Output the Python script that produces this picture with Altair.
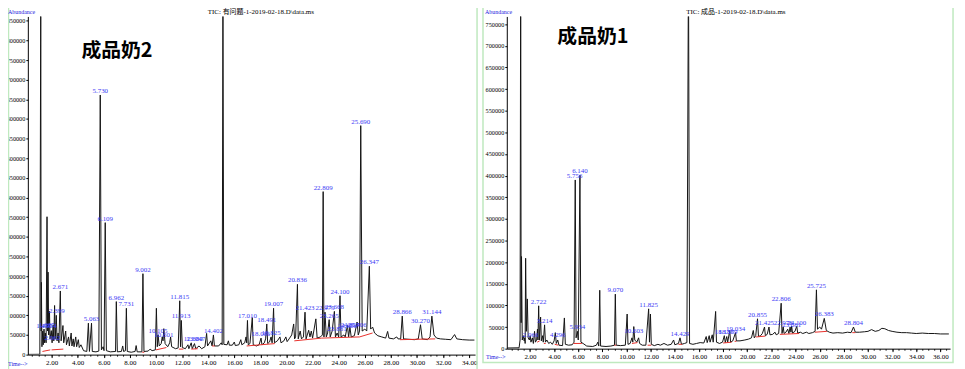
import altair as alt
import pandas as pd

# ---------------- data ----------------
# Left panel (成品奶2): trace vertices (retention time [min], abundance)
LEFT_TRACE = [
    (0.20, 500), (1.10, 800), (1.17, 900000), (1.20, 60000), (1.22, 184000), (1.26, 20000),
    (1.32, 60000), (1.36, 25000), (1.42, 65000), (1.46, 30000), (1.52, 55000), (1.58, 30000),
    (1.65, 351000), (1.69, 60000), (1.73, 210000), (1.78, 50000), (1.84, 110000), (1.88, 40000),
    (1.98, 61000), (2.04, 30000), (2.12, 75000), (2.17, 35000), (2.23, 125000), (2.28, 40000),
    (2.36, 100000), (2.42, 35000), (2.50, 55000), (2.56, 30000), (2.67, 162000), (2.73, 35000),
    (2.87, 74000), (2.93, 30000), (3.08, 60000), (3.14, 25000), (3.30, 45000), (3.36, 22000),
    (3.50, 55000), (3.56, 22000), (3.66, 40000), (3.72, 20000), (3.85, 45000), (3.92, 20000),
    (4.05, 38000), (4.12, 18000), (4.25, 25000), (4.45, 10000), (4.70, 8000), (4.82, 80000),
    (4.90, 8000), (5.06, 80000), (5.12, 8000), (5.40, 7000), (5.62, 9000), (5.73, 661000),
    (5.82, 12000), (5.95, 20000), (6.02, 10000), (6.11, 336000), (6.20, 10000), (6.50, 7000),
    (6.90, 8000), (6.96, 135000), (7.04, 7000), (7.35, 8000), (7.45, 22000), (7.52, 8000),
    (7.66, 10000), (7.73, 118000), (7.80, 8000), (8.10, 6000), (8.40, 8000), (8.48, 23000),
    (8.56, 7000), (8.92, 7000), (9.00, 206000), (9.08, 8000), (9.40, 9000), (9.55, 14000),
    (9.70, 10000), (9.95, 12000), (10.03, 118000), (10.10, 20000), (10.16, 50000), (10.25, 22000),
    (10.40, 28000), (10.48, 45000), (10.54, 35000), (10.60, 66000), (10.70, 28000), (10.90, 20000),
    (11.05, 30000), (11.12, 45000), (11.20, 20000), (11.50, 15000), (11.70, 17000), (11.82, 137000),
    (11.88, 20000), (11.94, 87000), (12.02, 18000), (12.25, 15000), (12.45, 25000), (12.52, 15000),
    (12.70, 30000), (12.78, 15000), (12.95, 28000), (13.05, 15000), (13.30, 22000), (13.50, 15000),
    (13.75, 20000), (13.88, 54000), (13.95, 22000), (14.20, 35000), (14.30, 22000), (14.40, 50000),
    (14.48, 22000), (14.80, 22000), (15.00, 30000), (15.07, 25000), (15.13, 900000), (15.20, 26000),
    (15.45, 25000), (15.55, 35000), (15.62, 24000), (15.85, 24000), (16.00, 32000), (16.08, 23000),
    (16.35, 25000), (16.50, 38000), (16.58, 25000), (16.80, 30000), (16.90, 45000), (16.95, 30000),
    (17.01, 87000), (17.07, 25000), (17.20, 28000), (17.38, 94000), (17.45, 25000), (17.70, 22000),
    (17.90, 25000), (18.05, 42000), (18.12, 25000), (18.30, 30000), (18.40, 40000), (18.49, 78000),
    (18.56, 28000), (18.70, 32000), (18.82, 45000), (18.90, 30000), (19.01, 118000), (19.08, 30000),
    (19.30, 35000), (19.50, 45000), (19.58, 30000), (19.80, 35000), (19.95, 45000), (20.05, 33000),
    (20.20, 40000), (20.40, 50000), (20.55, 78000), (20.62, 40000), (20.70, 45000), (20.84, 179000),
    (20.90, 40000), (21.05, 60000), (21.15, 40000), (21.30, 45000), (21.42, 108000), (21.50, 40000),
    (21.70, 62000), (21.80, 45000), (21.90, 60000), (22.00, 42000), (22.25, 91000), (22.35, 42000),
    (22.60, 45000), (22.75, 50000), (22.81, 415000), (22.87, 45000), (22.95, 108000), (23.05, 45000),
    (23.15, 55000), (23.27, 89000), (23.35, 45000), (23.50, 60000), (23.67, 110000), (23.75, 45000),
    (23.88, 55000), (24.00, 45000), (24.10, 150000), (24.18, 45000), (24.40, 50000), (24.50, 45000),
    (24.67, 74000), (24.76, 45000), (24.86, 70000), (24.96, 45000), (25.20, 48000), (25.41, 83000),
    (25.50, 50000), (25.60, 60000), (25.69, 583000), (25.80, 60000), (26.00, 65000), (26.15, 60000),
    (26.35, 225000), (26.45, 65000), (26.60, 70000), (26.75, 55000), (27.00, 48000), (27.30, 45000),
    (27.60, 42000), (27.75, 59000), (27.85, 42000), (28.20, 40000), (28.45, 45000), (28.55, 40000),
    (28.75, 40000), (28.87, 98000), (28.97, 40000), (29.40, 39000), (29.80, 38000), (30.10, 40000),
    (30.27, 76000), (30.40, 40000), (30.80, 38000), (31.00, 45000), (31.14, 98000), (31.30, 50000),
    (31.50, 42000), (31.80, 40000), (32.20, 39000), (32.60, 38000), (32.88, 51000), (33.05, 40000),
    (33.50, 38000), (34.00, 37000), (34.40, 37000),
]
LEFT_LABELS = [
    (1.42, 62000, "1.450"), (1.62, 66000, "1.627"), (1.80, 62000, "1.754"), (2.06, 32000, "2.062"),
    (2.40, 100000, "2.399"), (2.67, 162000, "2.671"), (5.06, 80000, "5.063"), (5.73, 661000, "5.730"),
    (6.11, 336000, "6.109"), (6.96, 135000, "6.962"), (7.73, 118000, "7.731"), (9.00, 206000, "9.002"),
    (10.15, 50000, "10.105"), (10.60, 40000, "10.601"), (11.82, 137000, "11.815"), (11.92, 87000, "11.913"),
    (12.85, 30000, "12.880"), (13.05, 30000, "13.047"), (14.40, 50000, "14.402"), (17.01, 87000, "17.010"),
    (18.05, 42000, "18.081"), (18.49, 78000, "18.491"), (18.82, 45000, "18.825"), (19.01, 118000, "19.007"),
    (20.84, 179000, "20.836"), (21.42, 108000, "21.423"), (22.81, 415000, "22.809"), (22.95, 108000, "22.975"),
    (23.27, 89000, "23.265"), (23.67, 110000, "23.668"), (23.88, 55000, "23.881"), (24.10, 150000, "24.100"),
    (24.67, 62000, "24.666"), (24.86, 66000, "24.857"), (25.41, 66000, "25.406"), (25.69, 583000, "25.690"),
    (26.35, 225000, "26.347"), (28.87, 98000, "28.866"), (30.27, 76000, "30.270"), (31.14, 98000, "31.144"),
]
LEFT_RED = [
    (1.30, 8000, 1.90, 12000), (2.00, 12000, 2.90, 14000), (8.95, 6000, 9.10, 6000),
    (10.00, 12000, 10.80, 18000), (11.75, 14000, 12.10, 14000), (12.70, 14000, 13.20, 15000),
    (14.30, 22000, 14.50, 22000), (16.95, 22000, 19.10, 28000), (20.60, 35000, 22.70, 42000),
    (22.70, 42000, 25.60, 45000), (25.60, 45000, 26.60, 55000), (28.70, 38000, 31.40, 40000),
]

# Right panel (成品奶1)
RIGHT_TRACE = [
    (0.10, 1500), (1.10, 2000), (1.18, 20000), (1.23, 900000), (1.27, 60000), (1.30, 213000),
    (1.36, 20000), (1.45, 30000), (1.52, 18000), (1.57, 25000), (1.60, 12000), (1.64, 209000),
    (1.70, 40000), (1.78, 115000), (1.85, 25000), (1.95, 20000), (2.02, 30000), (2.08, 15000),
    (2.20, 25000), (2.28, 12000), (2.38, 40000), (2.45, 15000), (2.55, 20000), (2.62, 45000),
    (2.66, 20000), (2.72, 99000), (2.78, 20000), (2.88, 73000), (2.94, 18000), (3.05, 30000),
    (3.10, 15000), (3.21, 55000), (3.28, 15000), (3.40, 20000), (3.55, 12000), (3.70, 15000),
    (3.85, 10000), (4.00, 18000), (4.10, 37000), (4.18, 12000), (4.30, 20000), (4.40, 8000),
    (4.70, 7000), (4.85, 71000), (4.93, 10000), (5.20, 8000), (5.50, 9000), (5.65, 15000),
    (5.75, 390000), (5.82, 25000), (5.93, 40000), (6.00, 20000), (6.14, 401000), (6.22, 15000),
    (6.40, 12000), (6.70, 6000), (7.20, 5000), (7.50, 8000), (7.62, 15000), (7.70, 6000),
    (7.78, 135000), (7.85, 6000), (8.30, 5000), (8.70, 6000), (9.00, 8000), (9.07, 126000),
    (9.14, 8000), (9.50, 7000), (9.90, 8000), (10.05, 80000), (10.12, 10000), (10.30, 12000),
    (10.45, 25000), (10.52, 15000), (10.60, 51000), (10.68, 20000), (10.85, 15000), (11.00, 25000),
    (11.08, 12000), (11.30, 8000), (11.60, 8000), (11.83, 92000), (11.90, 15000), (11.98, 80000),
    (12.05, 10000), (12.30, 7000), (12.60, 10000), (12.80, 8000), (13.10, 12000), (13.40, 8000),
    (13.70, 10000), (13.90, 20000), (14.00, 9000), (14.30, 12000), (14.43, 25000), (14.55, 10000),
    (14.80, 12000), (15.00, 14000), (15.13, 900000), (15.22, 12000), (15.50, 10000), (15.80, 12000),
    (16.10, 14000), (16.40, 13000), (16.60, 28000), (16.68, 14000), (16.85, 30000), (16.92, 15000),
    (17.10, 32000), (17.18, 15000), (17.38, 86000), (17.45, 15000), (17.70, 12000), (17.95, 15000),
    (18.10, 30000), (18.18, 14000), (18.30, 28000), (18.38, 15000), (18.55, 42000), (18.62, 15000),
    (18.80, 18000), (19.03, 37000), (19.10, 18000), (19.40, 18000), (19.80, 20000), (20.10, 22000),
    (20.35, 25000), (20.50, 42000), (20.58, 25000), (20.70, 30000), (20.85, 69000), (20.93, 28000),
    (21.10, 30000), (21.25, 35000), (21.43, 50000), (21.50, 30000), (21.65, 33000), (21.80, 50000),
    (21.88, 32000), (22.10, 33000), (22.30, 38000), (22.40, 32000), (22.60, 35000), (22.81, 105000),
    (22.88, 35000), (22.98, 50000), (23.05, 35000), (23.20, 38000), (23.35, 45000), (23.45, 35000),
    (23.55, 50000), (23.62, 38000), (23.68, 52000), (23.75, 36000), (23.95, 40000), (24.10, 52000),
    (24.18, 36000), (24.40, 38000), (24.60, 35000), (24.90, 38000), (25.10, 35000), (25.40, 37000),
    (25.62, 40000), (25.73, 136000), (25.82, 45000), (26.00, 50000), (26.15, 45000), (26.38, 70000),
    (26.55, 42000), (26.80, 38000), (27.10, 36000), (27.50, 37000), (27.90, 36000), (28.30, 38000),
    (28.60, 37000), (28.80, 50000), (28.95, 38000), (29.30, 38000), (29.70, 39000), (30.00, 40000),
    (30.30, 44000), (30.60, 40000), (30.90, 42000), (31.15, 47000), (31.40, 46000), (31.70, 42000),
    (32.00, 40000), (32.40, 38000), (32.80, 37000), (33.20, 37000), (33.60, 36000), (34.00, 35000),
    (34.50, 36000), (35.00, 35000), (35.50, 35000), (36.00, 34000), (36.70, 34000),
]
RIGHT_LABELS = [
    (2.05, 22000, "2.066"), (2.72, 99000, "2.722"), (3.21, 55000, "3.214"), (4.30, 22000, "4.296"),
    (5.70, 390000, "5.756"), (6.14, 401000, "6.140"), (5.93, 40000, "5.934"), (9.07, 126000, "9.070"),
    (10.60, 32000, "10.603"), (11.83, 92000, "11.825"), (14.43, 25000, "14.429"), (18.10, 30000, "18.186"),
    (18.40, 30000, "18.379"), (19.03, 37000, "19.034"), (20.85, 69000, "20.855"), (21.43, 50000, "21.425"),
    (22.81, 105000, "22.806"), (22.98, 50000, "22.976"), (23.68, 45000, "23.681"), (24.10, 50000, "24.100"),
    (25.73, 136000, "25.725"), (26.38, 70000, "26.383"), (28.80, 50000, "28.804"),
]
RIGHT_RED = [
    (2.60, 15000, 2.80, 18000), (3.15, 12000, 3.30, 12000), (4.05, 10000, 4.35, 8000),
    (5.60, 12000, 6.30, 12000), (9.00, 8000, 9.14, 8000), (10.45, 12000, 10.90, 14000),
    (11.75, 8000, 12.05, 8000), (14.30, 10000, 14.60, 10000), (18.00, 13000, 18.70, 15000),
    (18.95, 17000, 19.10, 17000), (20.70, 27000, 21.50, 29000), (22.70, 33000, 24.30, 35000),
    (25.60, 38000, 26.60, 40000), (28.70, 37000, 28.95, 37000),
]

LEFT_X_TICKS = [2, 4, 6, 8, 10, 12, 14, 16, 18, 20, 22, 24, 26, 28, 30, 32, 34]
RIGHT_X_TICKS = [2, 4, 6, 8, 10, 12, 14, 16, 18, 20, 22, 24, 26, 28, 30, 32, 34, 36]
LEFT_MINOR_TICKS = [k * 0.5 for k in range(1, 69)]
RIGHT_MINOR_TICKS = [k * 0.5 for k in range(1, 74)]
LEFT_Y_TICKS = [0, 50000, 100000, 150000, 200000, 250000, 300000, 350000, 400000, 450000,
                500000, 550000, 600000, 650000, 700000, 750000, 800000, 850000]
RIGHT_Y_TICKS = [0, 50000, 100000, 150000, 200000, 250000, 300000, 350000, 400000, 450000,
                 500000, 550000, 600000, 650000, 700000, 750000]

LEFT_TITLE = "成品奶2"
RIGHT_TITLE = "成品奶1"
LEFT_TIC = "TIC: 有问题-1-2019-02-18.D\\data.ms"
RIGHT_TIC = "TIC: 成品-1-2019-02-18.D\\data.ms"

# ---------------- styling ----------------
NUM_FONT = "Liberation Serif"
LABEL_BLUE = "#3b3bf5"
FRAME_GREEN = "#bfe9bf"


def panel(trace, labels, red, xdom, xrange, ydom, yrange, xticks, minor, yticks, xoff, yoff):
    xs = alt.Scale(domain=xdom, range=xrange, nice=False, zero=False)
    ys = alt.Scale(domain=ydom, range=yrange, nice=False, zero=False)
    xax = alt.Axis(values=xticks, format=".2f", orient="bottom", offset=xoff, title=None,
                   grid=False, domainColor="#000", tickColor="#000", tickSize=3,
                   labelFont=NUM_FONT, labelFontSize=7, labelColor="#000", labelPadding=1,
                   labelFlush=False, labelOverlap=False)
    xminor = alt.Axis(values=minor, labels=False, domain=False, orient="bottom", offset=xoff,
                      title=None, grid=False, tickColor="#000", tickSize=1.5)
    yax = alt.Axis(values=yticks, format="d", orient="left", offset=yoff, title=None,
                   grid=False, domainColor="#000", tickColor="#000", tickSize=2,
                   labelFont=NUM_FONT, labelFontSize=6.3, labelColor="#000", labelPadding=1,
                   labelFlush=False, labelOverlap=False)

    tr = pd.DataFrame(trace, columns=["t", "a"])
    tr["i"] = range(len(tr))
    line = alt.Chart(tr).mark_line(color="#141414", strokeWidth=1, clip=True).encode(
        x=alt.X("t:Q", scale=xs, axis=xax),
        y=alt.Y("a:Q", scale=ys, axis=yax),
        order="i:Q")

    rows = []
    for k, (t0, a0, t1, a1) in enumerate(red):
        rows.append({"seg": k, "t": t0, "a": a0, "o": 0})
        rows.append({"seg": k, "t": t1, "a": a1, "o": 1})
    rd = pd.DataFrame(rows)
    redl = alt.Chart(rd).mark_line(color="#e8302a", strokeWidth=1, clip=True).encode(
        x=alt.X("t:Q", scale=xs, axis=None),
        y=alt.Y("a:Q", scale=ys, axis=None),
        detail="seg:N", order="o:Q")

    lb = pd.DataFrame(labels, columns=["t", "a", "s"])
    txt = alt.Chart(lb).mark_text(color=LABEL_BLUE, font=NUM_FONT, fontSize=7,
                                  baseline="bottom", dy=-1).encode(
        x=alt.X("t:Q", scale=xs, axis=None),
        y=alt.Y("a:Q", scale=ys, axis=None),
        text="s:N")

    mt = alt.Chart(tr).mark_point(opacity=0, size=1).encode(
        x=alt.X("t:Q", scale=xs, axis=xminor),
        y=alt.Y("a:Q", scale=ys, axis=None))
    return alt.layer(line, redl, txt, mt).resolve_axis(x="independent", y="independent")


W, H = 930, 341
left = panel(LEFT_TRACE, LEFT_LABELS, LEFT_RED, [0.18, 34.45], [0, 451], [0, 861000], [341, 0],
             LEFT_X_TICKS, LEFT_MINOR_TICKS, LEFT_Y_TICKS, 0, 0)
right = panel(RIGHT_TRACE, RIGHT_LABELS, RIGHT_RED, [0.08, 36.8], [483, 930], [0, 768000], [335, 0],
              RIGHT_X_TICKS, RIGHT_MINOR_TICKS, RIGHT_Y_TICKS, -6, -483)


def note(text, x, y, size=7, color="#000", font=NUM_FONT, weight="normal", align="left", baseline="middle"):
    d = pd.DataFrame({"s": [text]})
    return alt.Chart(d).mark_text(fontSize=size, color=color, font=font, fontWeight=weight,
                                  align=align, baseline=baseline).encode(
        x=alt.value(x), y=alt.value(y), text="s:N")


def frame(x0, x1, y0, y1):
    d = pd.DataFrame({"k": [0]})
    return alt.Chart(d).mark_rect(filled=False, stroke=FRAME_GREEN, strokeWidth=1.5).encode(
        x=alt.value(x0), x2=alt.value(x1), y=alt.value(y0), y2=alt.value(y1))


CJK = "Liberation Serif, Noto Sans CJK SC"
notes = [
    frame(-19.5, 453, -11, 360),
    frame(459, 933, -11, 349),
    note("Abundance", -20, -4, size=6, color="#2222dd"),
    note("Abundance", 461, -4, size=6, color="#2222dd"),
    note(LEFT_TIC, 235, -4, size=7, font=CJK, align="center"),
    note(RIGHT_TIC, 664, -4, size=7, font=CJK),
    note(LEFT_TITLE, 54, 35, size=20, font="Noto Sans CJK SC", weight="bold"),
    note(RIGHT_TITLE, 534, 21, size=20, font="Noto Sans CJK SC", weight="bold"),
    note("Time-->", -20, 350, size=6, color="#2222dd"),
    note("Time-->", 462, 343, size=6, color="#2222dd"),
]

chart = alt.layer(left, right, *notes).resolve_scale(
    x="independent", y="independent"
).properties(
    width=W, height=H,
    autosize=alt.AutoSizeParams(type="none"),
    padding={"left": 20, "top": 7, "right": 7, "bottom": 13},
).configure_view(stroke=None)

chart.save("out.html", embed_options={"renderer": "svg", "actions": False})
